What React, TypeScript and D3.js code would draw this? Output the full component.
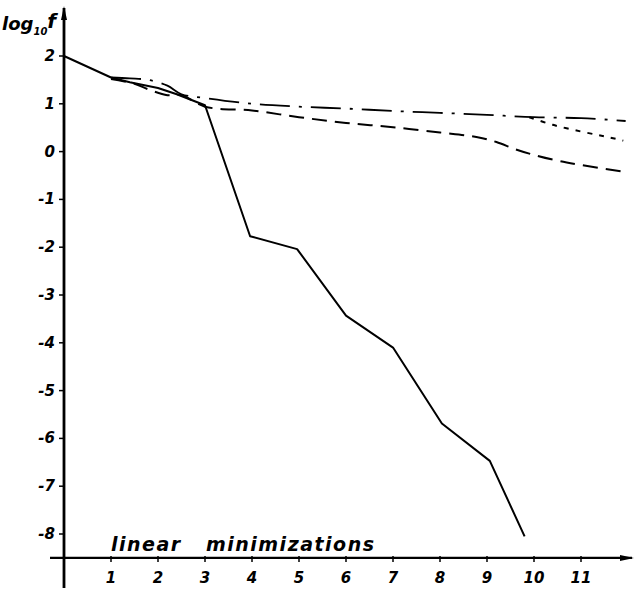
import React, { useRef, useEffect } from 'react';
import * as d3 from 'd3';

// values
const solidX = [0, 1, 1.4, 2, 2.4, 3, 3.96, 4.96, 6, 7, 8.04, 9.06, 9.8];
const solidY = [2, 1.55, 1.45, 1.33, 1.2, 0.97, -1.77, -2.04, -3.43, -4.1, -5.69, -6.47, -8.05];

const dashDotX = [1, 1.4, 1.8, 2.2, 2.5, 3, 4, 5, 6, 7, 8, 9, 10, 11, 11.95];
const dashDotY = [1.55, 1.53, 1.5, 1.38, 1.2, 1.12, 1.0, 0.94, 0.9, 0.85, 0.81, 0.77, 0.72, 0.7, 0.64];

const longDashX = [1, 1.5, 1.8, 2.2, 2.5, 3, 4, 5, 6, 7, 8, 8.8, 9.2, 9.6, 10, 10.5, 11, 11.95];
const longDashY = [1.52, 1.42, 1.3, 1.18, 1.18, 0.94, 0.86, 0.72, 0.6, 0.51, 0.4, 0.3, 0.2, 0.05, -0.07, -0.19, -0.28, -0.43];

const shortDashX = [9.9, 10.4, 11, 11.5, 11.9];
const shortDashY = [0.72, 0.56, 0.42, 0.32, 0.23];

const yTicks = [2, 1, 0, -1, -2, -3, -4, -5, -6, -7, -8];
const xTicks = [1, 2, 3, 4, 5, 6, 7, 8, 9, 10, 11];

const App = () => {
    const svgRef = useRef(null);

    useEffect(() => {
        const width = 635;
        const height = 593;
        const svg = d3.select(svgRef.current);
        svg.selectAll('*').remove();

        const x = d3.scaleLinear().domain([0, 11]).range([64, 581]);
        const y = d3.scaleLinear().domain([2, -8]).range([56, 534]);
        const axisY = y(-8.5);
        const font = "'DejaVu Sans', sans-serif";

        // axes
        svg.append('line')
            .attr('x1', x(0)).attr('x2', x(0))
            .attr('y1', 8).attr('y2', 588)
            .attr('stroke', '#000').attr('stroke-width', 2.8);
        svg.append('path')
            .attr('d', `M${x(0) - 3},20 L${x(0)},6 L${x(0) + 3},20 Z`)
            .attr('fill', '#000');
        svg.append('line')
            .attr('x1', 50).attr('x2', 632)
            .attr('y1', axisY).attr('y2', axisY)
            .attr('stroke', '#000').attr('stroke-width', 2.2);
        svg.append('path')
            .attr('d', `M620,${axisY - 3} L634,${axisY} L620,${axisY + 3} Z`)
            .attr('fill', '#000');

        // y ticks and labels
        const yg = svg.append('g');
        yTicks.forEach(t => {
            yg.append('line')
                .attr('x1', x(0) - 5).attr('x2', x(0))
                .attr('y1', y(t)).attr('y2', y(t))
                .attr('stroke', '#000').attr('stroke-width', 1.5);
            yg.append('text')
                .attr('x', x(0) - 9).attr('y', y(t) + 5)
                .attr('text-anchor', 'end')
                .attr('font-family', font).attr('font-style', 'italic').attr('font-weight', 'bold')
                .attr('font-size', 15)
                .text(t < 0 ? `-${-t}` : `${t}`);
        });

        // x ticks and labels
        const xg = svg.append('g');
        xTicks.forEach(t => {
            xg.append('line')
                .attr('x1', x(t)).attr('x2', x(t))
                .attr('y1', axisY - 2).attr('y2', axisY + 4)
                .attr('stroke', '#000').attr('stroke-width', 1.5);
            xg.append('text')
                .attr('x', x(t)).attr('y', axisY + 25)
                .attr('text-anchor', 'middle')
                .attr('font-family', font).attr('font-style', 'italic').attr('font-weight', 'bold')
                .attr('font-size', 15)
                .text(t);
        });

        // axis titles
        const yTitle = svg.append('text')
            .attr('x', 2).attr('y', 30)
            .attr('font-family', font).attr('font-style', 'italic').attr('font-weight', 'bold')
            .attr('font-size', 18);
        yTitle.append('tspan').text('log');
        yTitle.append('tspan').attr('font-size', 10).attr('dy', 5).text('10');
        yTitle.append('tspan').attr('dy', -7).attr('font-size', 20).text('f');

        svg.append('text')
            .attr('x', 111).attr('y', axisY - 7)
            .attr('font-family', font).attr('font-style', 'italic').attr('font-weight', 'bold')
            .attr('font-size', 19)
            .attr('letter-spacing', 1.5)
            .attr('xml:space', 'preserve')
            .text('linear   minimizations');

        const toPts = (xs, ys) => xs.map((v, i) => [v, ys[i]]);

        const straight = d3.line().x(d => x(d[0])).y(d => y(d[1]));
        const smooth = d3.line().x(d => x(d[0])).y(d => y(d[1])).curve(d3.curveCatmullRom);

        svg.append('path')
            .datum(toPts(dashDotX, dashDotY))
            .attr('fill', 'none').attr('stroke', '#000').attr('stroke-width', 1.8)
            .attr('stroke-dasharray', '30 9 3 9')
            .attr('d', smooth);

        svg.append('path')
            .datum(toPts(longDashX, longDashY))
            .attr('fill', 'none').attr('stroke', '#000').attr('stroke-width', 2)
            .attr('stroke-dasharray', '15 8')
            .attr('d', smooth);

        svg.append('path')
            .datum(toPts(shortDashX, shortDashY))
            .attr('fill', 'none').attr('stroke', '#000').attr('stroke-width', 2)
            .attr('stroke-dasharray', '5 7')
            .attr('d', smooth);

        svg.append('path')
            .datum(toPts(solidX, solidY))
            .attr('fill', 'none').attr('stroke', '#000').attr('stroke-width', 2)
            .attr('stroke-linejoin', 'round')
            .attr('d', straight);

        svg.attr('width', width).attr('height', height);
    }, []);

    return (
        <svg ref={svgRef} width={635} height={593}
            style={{ position: 'absolute', left: 0, top: 0, background: '#fff' }}></svg>
    );
};

export default App;
